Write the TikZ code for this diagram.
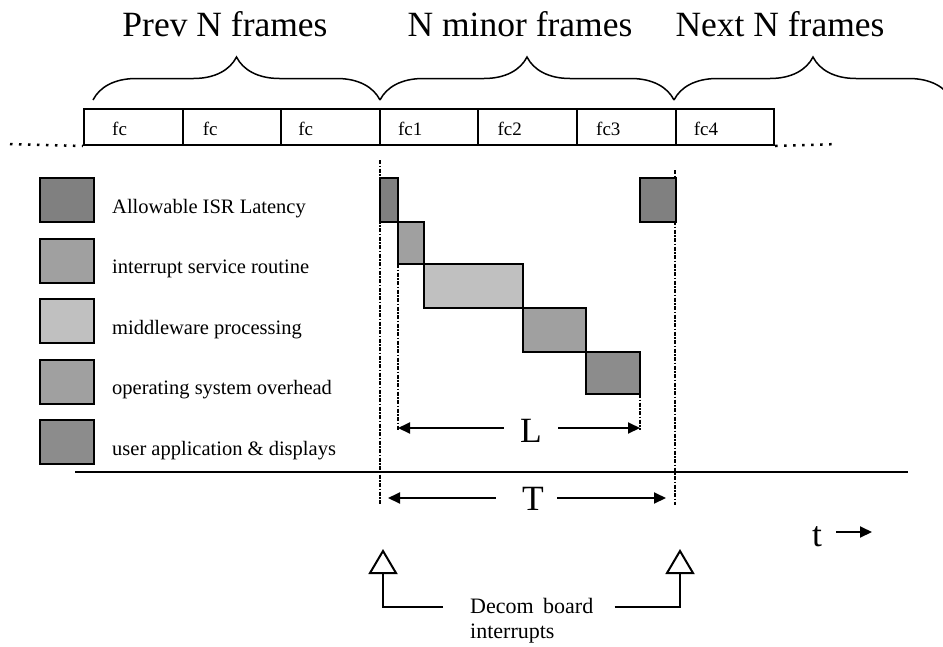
\documentclass[tikz,border=0pt]{standalone}
\usepackage{fontspec}
\setmainfont{Liberation Serif}
\usetikzlibrary{arrows.meta,positioning,decorations.pathreplacing}
\definecolor{latgray}{RGB}{128,128,128}
\definecolor{isrgray}{RGB}{160,160,160}
\definecolor{midgray}{RGB}{192,192,192}
\definecolor{osgray}{RGB}{160,160,160}
\definecolor{appgray}{RGB}{140,140,140}

\tikzset{
  framebox/.style={draw,line width=2pt,minimum width=98.6pt,minimum height=36pt,
    anchor=north west,inner sep=0pt},
  slot/.style={draw,line width=2pt},
  markline/.style={line width=1.5pt,dash pattern=on 4pt off 1.5pt on 1.5pt off 1.5pt},
  dotline/.style={line width=2.5pt,dash pattern=on 2.5pt off 6.5pt},
  dimarrow/.style={line width=2pt,-{Triangle[length=12pt,width=11pt]}},
  irqarrow/.style={line width=2pt,-{Triangle[open,length=25pt,width=29pt]}},
  bigtxt/.style={font=\fontsize{35.5}{38}\selectfont,inner sep=0pt}
}

\begin{document}
\begin{tikzpicture}[x=1pt,y=-1pt]
  \useasboundingbox (0,0) rectangle (943,646);
  % titles
  \node[bigtxt,anchor=base] (prev) at (225,36) {Prev N frames};
  \node[bigtxt,anchor=base] (cur) at (520,36) {N minor frames};
  \node[bigtxt,anchor=base] (next) at (780,36) {Next N frames};
  % braces
  \draw[line width=1.5pt,decorate,decoration={brace,amplitude=43pt}] (93,100) -- (380,100);
  \draw[line width=1.5pt,decorate,decoration={brace,amplitude=43pt}] (380,100) -- (674,100);
  \draw[line width=1.5pt,decorate,decoration={brace,amplitude=43pt}] (674,100) -- (952,100);
  % frame row
  \foreach \i/\lab/\dx in {0/fc/29,1/fc/21,2/fc/18,3/fc1/19,4/fc2/20,5/fc3/20,6/fc4/19} {
    \node[framebox] (f\i) at (83+98.6*\i,108) {};
    \node[font=\fontsize{19}{21}\selectfont,anchor=base west,inner sep=0pt]
      at ([xshift=\dx]f\i.west |- 0,135) {\lab};
  }
  \draw[dotline] (10,144) -- (f0.south west);
  \draw[dotline] (f6.south east) -- (838,144);
  % legend
  \foreach \j/\col/\txt in {0/latgray/Allowable ISR Latency,
      1/isrgray/interrupt service routine,
      2/midgray/middleware processing,
      3/osgray/operating system overhead,
      4/appgray/user application \& displays} {
    \draw[slot,fill=\col] (40,178+60.5*\j) rectangle ++(54,44);
    \node[font=\fontsize{20.5}{22}\selectfont,anchor=base west,inner sep=0pt]
      (leg\j) at (112,213+60.5*\j) {\txt};
  }
  % interrupt markers
  \draw[markline] (380,160) -- (380,505);
  \draw[markline] (675,170) -- (675,505);
  % timeline slots
  \draw[slot,fill=latgray] (380,178) rectangle (398,222);
  \draw[slot,fill=latgray] (640,178) rectangle (676,222);
  \draw[slot,fill=isrgray] (398,222) rectangle (424,264);
  \draw[slot,fill=midgray] (424,264) rectangle (523,308);
  \draw[slot,fill=osgray] (523,308) rectangle (586,352);
  \draw[slot,fill=appgray] (586,352) rectangle (640,394);
  % L dimension
  \draw[markline] (398,264) -- (398,430);
  \draw[markline] (640,394) -- (640,430);
  \coordinate (Lleft) at (398,428);
  \coordinate (Lright) at (640,428);
  \node[bigtxt,anchor=base] (Llab) at (531,442) {L};
  \draw[dimarrow] ([xshift=-16pt]Llab.west |- Lleft) -- (Lleft);
  \draw[dimarrow] ([xshift=16pt]Llab.east |- Lright) -- (Lright);
  % time axis
  \draw[line width=2pt] (75,472) -- (908,472);
  \coordinate (Tleft) at (388,498);
  \coordinate (Tright) at (666,498);
  \node[bigtxt,anchor=base] (Tlab) at (533,510) {T};
  \draw[dimarrow] ([xshift=-26pt]Tlab.west |- Tleft) -- (Tleft);
  \draw[dimarrow] ([xshift=13pt]Tlab.east |- Tright) -- (Tright);
  \node[bigtxt,anchor=base west] (tlab) at (812,546) {t};
  \coordinate (tend) at (872,532);
  \draw[dimarrow] ([xshift=14pt]tlab.east |- tend) -- (tend);
  % decom board interrupts
  \node[font=\fontsize{22}{25}\selectfont,align=left,anchor=north west,inner sep=0pt]
    (decom) at (470,598) {Decom\hspace{4pt} board\\interrupts};
  \coordinate (irqL) at (383,549);
  \coordinate (irqR) at (680,549);
  \draw[irqarrow] ([xshift=-27pt]decom.north west |- 0,607) -| (irqL);
  \draw[irqarrow] ([xshift=21pt]decom.north east |- 0,607) -| (irqR);
\end{tikzpicture}
\end{document}
